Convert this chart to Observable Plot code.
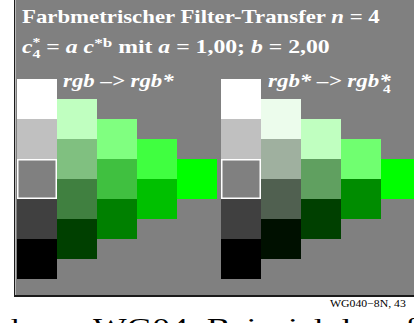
<!DOCTYPE html>
<html>
<head>
<meta charset="utf-8">
<script src="https://cdn.jsdelivr.net/npm/d3@7"></script>
<script src="https://cdn.jsdelivr.net/npm/@observablehq/plot@0.6"></script>
<style>
  html, body { margin: 0; padding: 0; background: #fff; }
  #wrap { position: relative; width: 414px; height: 323px; overflow: hidden; background: #fff; }
  #panel { position: absolute; left: 14px; top: 0; width: 400px; height: 295px;
           background: #808080; border-left: 1px solid #1a1a1a; border-bottom: 2px solid #1a1a1a;
           box-shadow: inset 1px 0 0 #b8b8b8; }
  #panel svg { display: block; }
  #overlay { position: absolute; left: 0; top: 0; pointer-events: none; }
  #overlay text { font-family: "Liberation Serif", "Times New Roman", serif; }
</style>
</head>
<body>
<div id="wrap">
  <div id="panel"></div>
  <svg id="overlay" width="414" height="323">
    <g fill="#ffffff" font-weight="bold" font-size="18">
      <text class="fit" data-x="22" data-y="23" data-w="358">Farbmetrischer Filter-Transfer <tspan font-style="italic">n</tspan> = 4</text>
      <text class="fit" data-x="22" data-y="53" data-w="308"><tspan font-style="italic">c</tspan><tspan font-size="12" dy="-7">*</tspan><tspan font-size="12" dx="-6" dy="12">4</tspan><tspan dy="-5">  = </tspan><tspan font-style="italic">a c</tspan><tspan font-size="13" dy="-6">*b</tspan><tspan dy="6"> mit </tspan><tspan font-style="italic">a</tspan> = 1,00; <tspan font-style="italic">b</tspan> = 2,00</text>
      <text class="fit" font-style="italic" data-x="63" data-y="87" data-w="112">rgb –&gt; rgb*</text>
      <text class="fit" font-style="italic" data-x="268" data-y="87" data-w="124">rgb* –&gt; rgb*<tspan font-size="12" font-style="normal" dx="-6" dy="6">4</tspan></text>
    </g>
    <text class="fit" fill="#000" font-size="10" data-x="330" data-y="307" data-w="76">WG040−8N, 43</text>
    <text class="fit" fill="#000" font-size="26" data-x="2" data-y="336" data-w="44">der</text>
    <text class="fit" fill="#000" font-size="26" data-x="93" data-y="336" data-w="440">WG04: Beispiel der offiziellen</text>
  </svg>
</div>
<script>
// Colour data: columns of each half, top to bottom
const grayColumn   = ["#ffffff", "#c0c0c0", "#808080", "#404040", "#000000"];
const leftColumn2  = ["#c0ffc0", "#80c080", "#408040", "#004000"];
const leftColumn3  = ["#80ff80", "#40c040", "#008000"];
const leftColumn4  = ["#40ff40", "#00c000"];
const leftColumn5  = ["#00ff00"];
const rightColumn2 = ["#ecfcec", "#9fb09f", "#506050", "#001000"];
const rightColumn3 = ["#c0ffc0", "#60a060", "#004000"];
const rightColumn4 = ["#70ff70", "#008c00"];
const rightColumn5 = ["#00ff00"];
const highlightRow = 2; // middle grey, outlined in white

const panels = [
  [grayColumn, leftColumn2, leftColumn3, leftColumn4, leftColumn5],
  [grayColumn, rightColumn2, rightColumn3, rightColumn4, rightColumn5]
];

// layout (cell units)
const panelOffset = [0, 5.1];
const columnShift = 0.5;

const cells = [];
const outlines = [];
panels.forEach((cols, p) => {
  cols.forEach((col, c) => {
    col.forEach((fill, r) => {
      const cell = {
        x1: panelOffset[p] + c, x2: panelOffset[p] + c + 1,
        y1: c * columnShift + r, y2: c * columnShift + r + 1, fill
      };
      cells.push(cell);
      if (c === 0 && r === highlightRow) outlines.push(cell);
    });
  });
});

const W = 399, H = 295;
const chart = Plot.plot({
  width: W,
  height: H,
  margin: 0,
  x: {domain: [-0.05, -0.05 + W / 40], range: [0, W], axis: null},
  y: {domain: [-1.975, -1.975 + H / 40], range: [0, H], axis: null},
  color: {type: "identity"},
  style: {background: "transparent"},
  marks: [
    Plot.rect(cells, {x1: "x1", x2: "x2", y1: "y1", y2: "y2", fill: "fill"}),
    Plot.rect(outlines, {x1: "x1", x2: "x2", y1: "y1", y2: "y2", fill: "none",
      stroke: "#ffffff", strokeWidth: 1.5, inset: 0.75})
  ]
});
document.getElementById("panel").appendChild(chart);

// stretch the texts horizontally to the widths seen in the reference
document.querySelectorAll("#overlay text.fit").forEach(t => {
  const x = +t.dataset.x, y = +t.dataset.y, w = +t.dataset.w;
  t.setAttribute("transform", `translate(${x},${y})`);
  const bw = t.getBBox().width || w;
  t.setAttribute("transform", `translate(${x},${y}) scale(${w / bw},1)`);
});
</script>
</body>
</html>
